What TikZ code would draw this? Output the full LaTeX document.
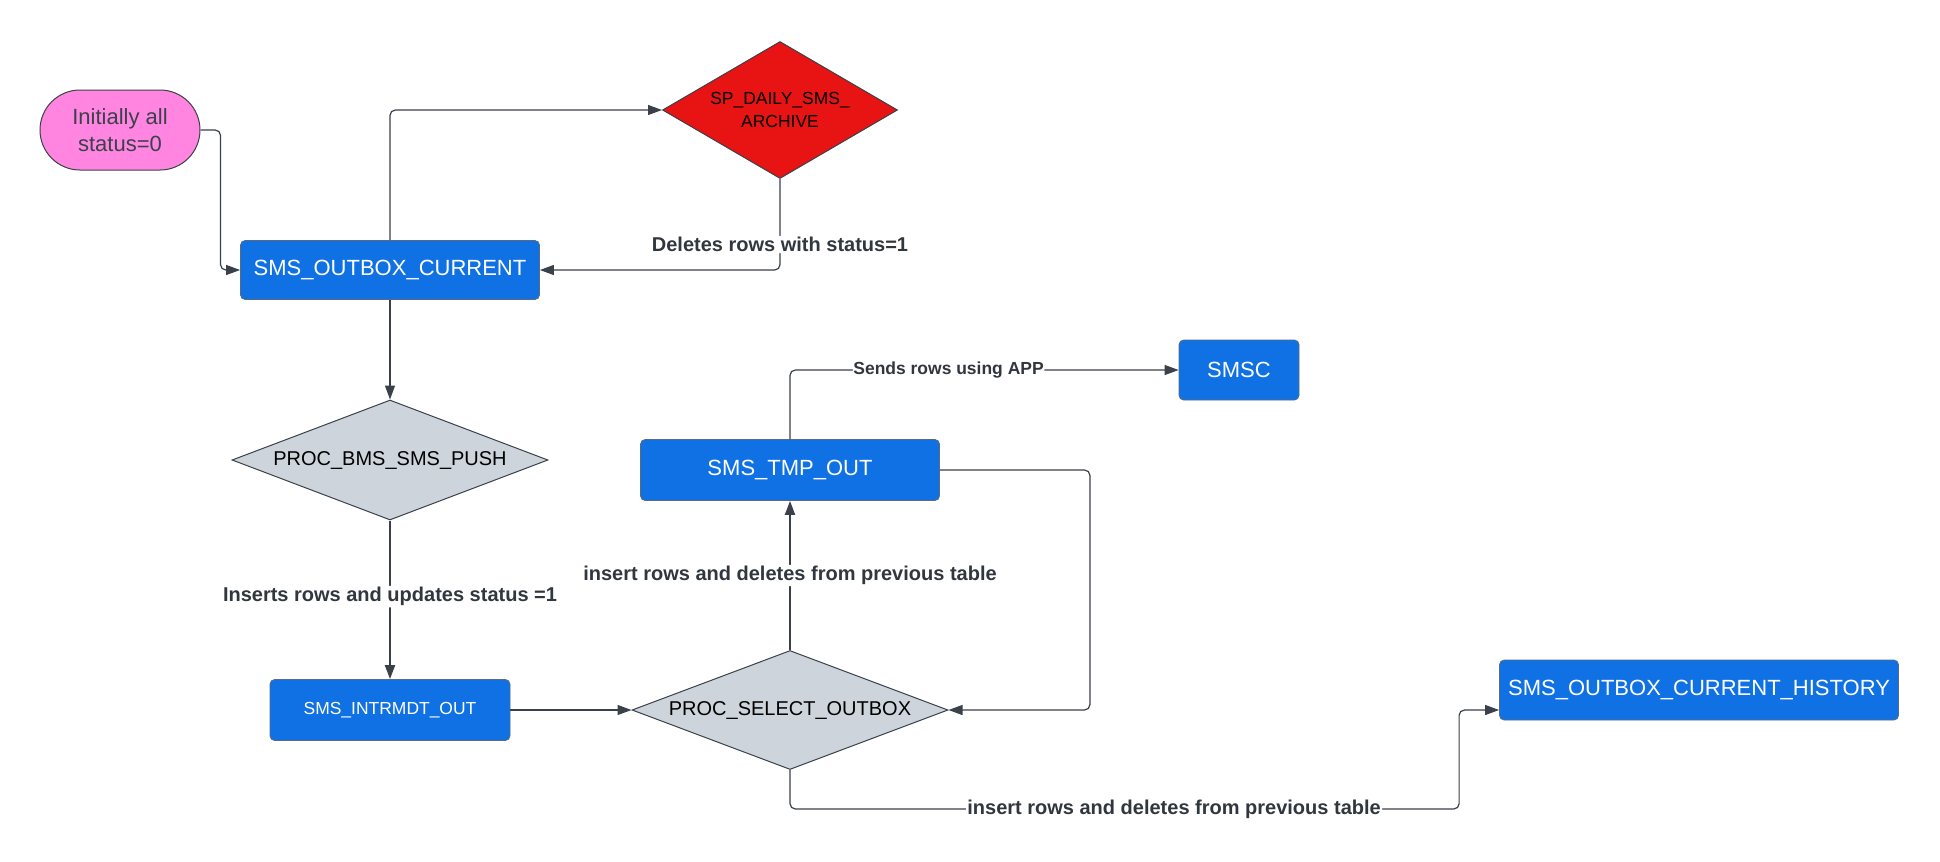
\documentclass[tikz,border=0pt]{standalone}
\usepackage{fontspec}
\setmainfont{Liberation Sans}
\usetikzlibrary{shapes.geometric,arrows.meta,calc}
\definecolor{lucidblue}{HTML}{1071E5}
\definecolor{lucidgray}{HTML}{CED4DB}
\definecolor{lucidred}{HTML}{E81313}
\definecolor{lucidpink}{HTML}{FF85E1}
\definecolor{lineclr}{HTML}{3A414A}
\definecolor{boxedge}{HTML}{5A6A80}
\begin{document}
\begin{tikzpicture}[x=0.75pt,y=-0.75pt,
  bluebox/.style={draw=boxedge,line width=0.6pt,fill=lucidblue,rounded corners=3.5pt,
    text=white,font=\fontsize{16.5}{20}\selectfont,inner sep=0pt,align=center},
  decision/.style={diamond,draw=lineclr,line width=0.75pt,fill=lucidgray,inner sep=0pt,
    font=\fontsize{15}{18}\selectfont,text=black},
  lbl/.style={fill=white,inner sep=1pt,font=\bfseries\fontsize{15}{18}\selectfont,text=lineclr!85!black},
  arr/.style={draw=lineclr,line width=0.9pt,rounded corners=4pt,-{Triangle[length=10.5pt,width=7.5pt]}},
  arrthick/.style={arr,line width=1.5pt}]
\useasboundingbox (0,0) rectangle (1940,861);

% nodes
\node[draw=lineclr,line width=0.75pt,fill=lucidpink,rounded corners=30pt,
  minimum width=120pt,minimum height=60pt,inner sep=0pt,align=center,
  text=lineclr,font=\fontsize{16.5}{20.25}\selectfont] (pink) at (120,130) {Initially all\\status=0};
\node[bluebox,minimum width=224.25pt,minimum height=44.25pt] (SOC) at (390,270) {SMS\_OUTBOX\_CURRENT};
\node[diamond,draw=lineclr,line width=0.75pt,fill=lucidred,inner sep=0pt,aspect=1.72,
  minimum width=176.25pt,minimum height=102.75pt,align=center,
  font=\fontsize{13.1}{17.6}\selectfont,text=black] (SPD) at (780,110) {SP\_DAILY\_SMS\_\\ARCHIVE};
\node[decision,aspect=2.63,minimum width=237pt,minimum height=90pt] (PBSP) at (390,460) {PROC\_BMS\_SMS\_PUSH};
\node[bluebox,minimum width=180pt,minimum height=45.75pt,font=\fontsize{13.1}{16}\selectfont] (SIO) at (390,710) {SMS\_INTRMDT\_OUT};
\node[decision,aspect=2.65,minimum width=237pt,minimum height=89.25pt] (PSO) at (790,710) {PROC\_SELECT\_OUTBOX};
\node[bluebox,minimum width=224.25pt,minimum height=45.75pt] (STO) at (790,470) {SMS\_TMP\_OUT};
\node[bluebox,minimum width=90pt,minimum height=45pt] (SMSC) at (1239,370) {SMSC};
\node[bluebox,minimum width=299.25pt,minimum height=45pt] (HIST) at (1699,690) {SMS\_OUTBOX\_CURRENT\_HISTORY};

\coordinate (hin) at ($(HIST.west)+(0,20)$);

% connectors
\draw[arr] (pink.east) -- ($(pink.east)+(20,0)$) |- (SOC.west);
\draw[arr] (SOC.north) |- (SPD.west);
\draw[arr] (SPD.south) |- node[lbl,pos=0.36] {Deletes rows with status=1} (SOC.east);
\draw[arr] (SOC.south) -- (PBSP.north);
\draw[arrthick] (PBSP.south) -- node[lbl,pos=0.48] {Inserts rows and updates status =1} (SIO.north);
\draw[arr] (SIO.east) -- (PSO.west);
\draw[arrthick] (PSO.north) -- node[lbl,pos=0.5] {insert rows and deletes from previous table} (STO.south);
\draw[arr] (STO.north) |- node[lbl,pos=0.704,font=\bfseries\fontsize{13.1}{16}\selectfont,inner sep=0.5pt] {Sends rows using APP} (SMSC.west);
\draw[arr] (STO.east) -- ($(STO.east)+(150,0)$) |- (PSO.east);
\draw[arr] (PSO.south) |- node[lbl,pos=0.787] {insert rows and deletes from previous table} ($(hin)+(-40,99)$) |- (hin);
\end{tikzpicture}
\end{document}
